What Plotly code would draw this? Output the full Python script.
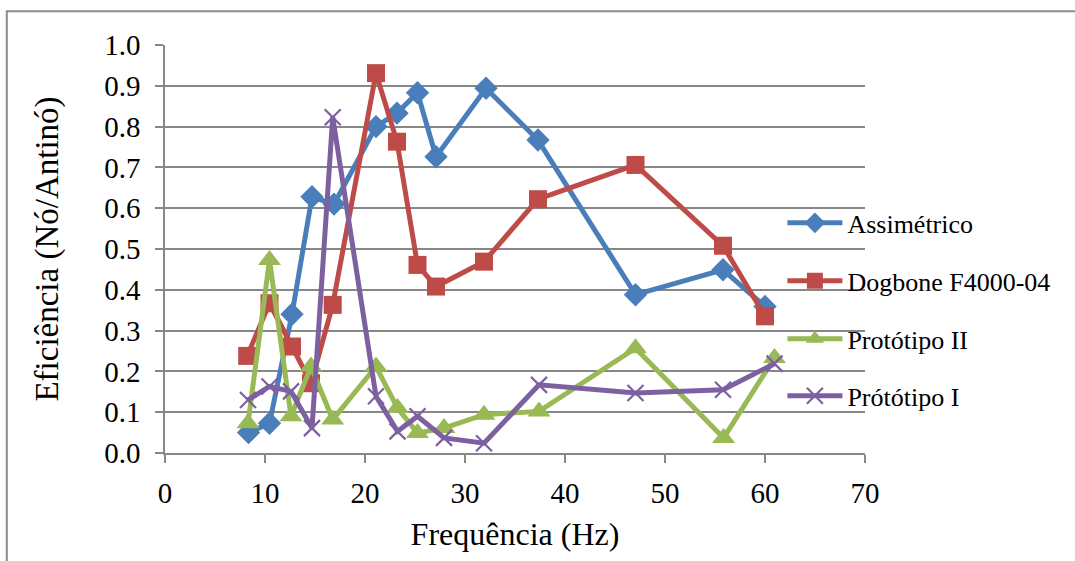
import plotly.graph_objects as go

# Frequências (Hz) e eficiências medidas para cada amortecedor
freq_assimetrico = [8.35, 10.45, 12.7, 14.7, 16.9, 21.1, 23.2, 25.25, 27.1, 32.1, 37.3, 47.05, 55.8, 60.0]
efic_assimetrico = [0.05, 0.073, 0.34, 0.628, 0.61, 0.80, 0.833, 0.883, 0.726, 0.894, 0.767, 0.388, 0.449, 0.359]

freq_dogbone = [8.22, 10.45, 12.7, 14.6, 16.77, 21.1, 23.2, 25.25, 27.1, 31.9, 37.3, 47.05, 55.8, 60.0]
efic_dogbone = [0.238, 0.367, 0.261, 0.171, 0.363, 0.931, 0.763, 0.461, 0.408, 0.469, 0.622, 0.706, 0.508, 0.335]

freq_prototipo2 = [8.3, 10.45, 12.6, 14.6, 16.77, 21.1, 23.25, 25.25, 27.9, 31.9, 37.4, 47.05, 55.86, 60.95]
efic_prototipo2 = [0.073, 0.473, 0.09, 0.212, 0.082, 0.212, 0.110, 0.049, 0.061, 0.094, 0.102, 0.257, 0.037, 0.233]

freq_prototipo1 = [8.3, 10.45, 12.6, 14.7, 16.77, 21.1, 23.25, 25.25, 27.9, 31.9, 37.4, 47.05, 55.8, 60.95]
efic_prototipo1 = [0.13, 0.163, 0.151, 0.061, 0.823, 0.139, 0.053, 0.09, 0.037, 0.024, 0.167, 0.147, 0.155, 0.219]

x_ticks = [0, 10, 20, 30, 40, 50, 60, 70]
y_ticks = [0.0, 0.1, 0.2, 0.3, 0.4, 0.5, 0.6, 0.7, 0.8, 0.9, 1.0]

FONT = "'Liberation Serif', 'Times New Roman', 'DejaVu Serif', serif"
GRID = "#878787"

series = [
    ("Assimétrico", freq_assimetrico, efic_assimetrico, "#4A7EBB",
     dict(symbol="diamond", size=18), "legend"),
    ("Dogbone F4000-04", freq_dogbone, efic_dogbone, "#BE4B48",
     dict(symbol="square", size=18), "legend2"),
    ("Protótipo II", freq_prototipo2, efic_prototipo2, "#98B954",
     dict(symbol="triangle-up", size=20), "legend3"),
    ("Prótótipo I", freq_prototipo1, efic_prototipo1, "#7D60A0",
     dict(symbol="x-thin", size=16, line=dict(width=2.2, color="#7D60A0")), "legend4"),
]

fig = go.Figure()
for name, xs, ys, color, marker, leg in series:
    fig.add_trace(go.Scatter(
        x=xs, y=ys, name=name, mode="lines+markers",
        line=dict(color=color, width=5),
        marker=dict(color=color, **marker),
        legend=leg,
    ))

legend_common = dict(
    font=dict(family=FONT, size=26, color="#000000"),
    bgcolor="rgba(0,0,0,0)", borderwidth=0,
    xanchor="left", yanchor="middle", itemwidth=55,
)
legend_y = [0.564, 0.422, 0.280, 0.140]
legend_x = 0.882
fig.update_layout(
    width=1075, height=561,
    margin=dict(l=165, r=210, t=45, b=108),
    paper_bgcolor="white", plot_bgcolor="white",
    font=dict(family=FONT, size=28, color="#000000"),
    showlegend=True,
    legend=dict(x=legend_x, y=legend_y[0], **legend_common),
    legend2=dict(x=legend_x, y=legend_y[1], **legend_common),
    legend3=dict(x=legend_x, y=legend_y[2], **legend_common),
    legend4=dict(x=legend_x, y=legend_y[3], **legend_common),
    xaxis=dict(
        range=[0, 70], tickvals=x_ticks, ticktext=[str(v) for v in x_ticks],
        showgrid=False, zeroline=False,
        showline=True, linecolor=GRID, linewidth=1.5,
        ticks="outside", ticklen=8, tickcolor=GRID, tickwidth=1.5,
        ticklabelstandoff=5,
        tickfont=dict(family=FONT, size=29),
        title=dict(text="Frequência (Hz)", font=dict(family=FONT, size=32), standoff=15),
    ),
    yaxis=dict(
        range=[0, 1.0], tickvals=y_ticks, ticktext=[f"{v:.1f}" for v in y_ticks],
        showgrid=True, gridcolor=GRID, gridwidth=1.5,
        zeroline=False,
        showline=True, linecolor=GRID, linewidth=1.5,
        ticks="outside", ticklen=8, tickcolor=GRID, tickwidth=1.5,
        ticklabelstandoff=9,
        tickfont=dict(family=FONT, size=29),
        title=dict(text="Eficiência (Nó/Antinó)", font=dict(family=FONT, size=33), standoff=36),
    ),
    shapes=[dict(
        type="rect", xref="paper", yref="paper",
        x0=-0.226, x1=1.5, y0=-1.0, y1=1.083,
        line=dict(color="#8C8C8C", width=2), fillcolor="rgba(0,0,0,0)", layer="below",
    )],
)

fig.write_html("out.html")
